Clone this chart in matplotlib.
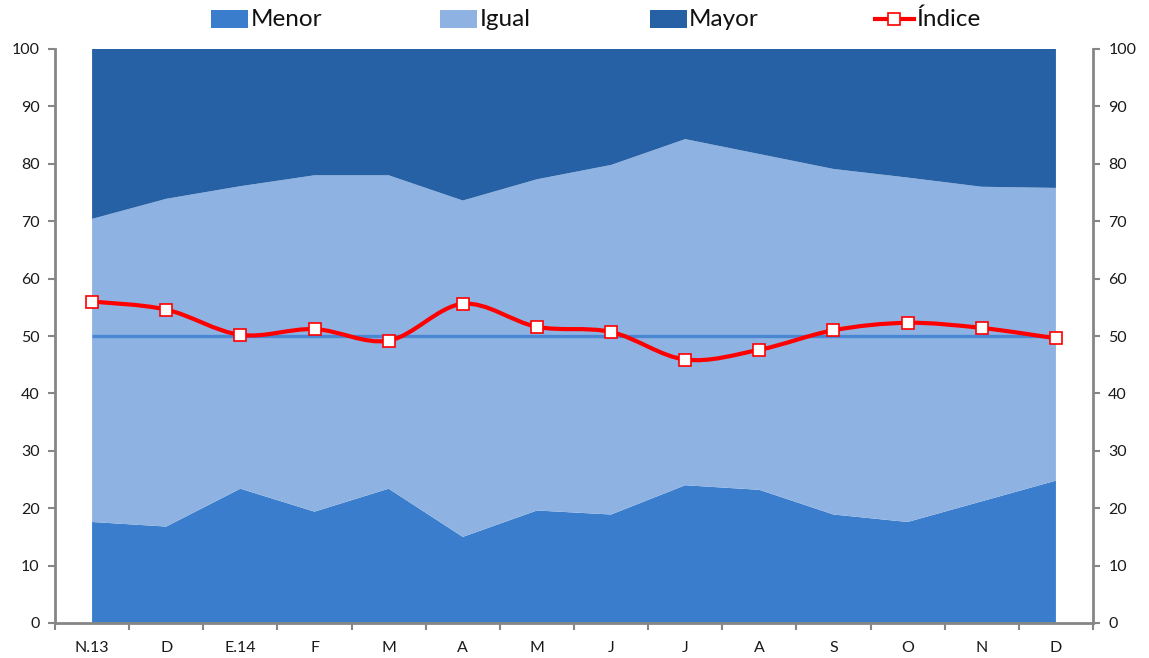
import matplotlib
matplotlib.use("Agg")
import matplotlib.pyplot as plt
from matplotlib.path import Path
from matplotlib.patches import PathPatch, Rectangle
from matplotlib.lines import Line2D
import numpy as np

categories = ["N.13", "D", "E.14", "F", "M", "A", "M", "J", "J", "A", "S", "O", "N", "D"]
menor = [17.6, 16.8, 23.4, 19.4, 23.4, 15.0, 19.6, 18.9, 24.0, 23.2, 18.9, 17.6, 21.2, 24.8]
menor_mas_igual = [70.4, 73.9, 76.1, 78.0, 78.0, 73.6, 77.3, 79.8, 84.3, 81.7, 79.1, 77.6, 76.0, 75.8]
igual = [round(t - m, 1) for t, m in zip(menor_mas_igual, menor)]
mayor = [round(100 - t, 1) for t in menor_mas_igual]
indice = [56.0, 54.6, 50.2, 51.2, 49.2, 55.6, 51.6, 50.7, 45.9, 47.6, 51.0, 52.3, 51.4, 49.6]
referencia = [50] * len(categories)
y_ticks = list(range(0, 101, 10))

c_menor = "#3b7dcd"
c_igual = "#8eb3e2"
c_mayor = "#2761a5"
c_ref = "#4a86d2"
c_idx = "#ff0000"
spine_c = "#868686"
font = ["Lato", "DejaVu Sans"]
plt.rcParams["font.family"] = font

W, H = 1149, 658
fig = plt.figure(figsize=(W / 100, H / 100), dpi=100)
ax = fig.add_axes([55 / W, 35 / H, (1093 - 55) / W, (623 - 49) / H])

x = np.arange(len(categories))
ax.stackplot(x, menor, igual, mayor, colors=[c_menor, c_igual, c_mayor], linewidth=0)
ax.plot(x, referencia, color=c_ref, lw=2.4, zorder=3, solid_capstyle="butt")

# smoothed index line (Catmull-Rom via cubic Bezier)
pts = np.column_stack([x, indice]).astype(float)
n = len(pts)
verts = [tuple(pts[0])]
codes = [Path.MOVETO]
for i in range(n - 1):
    p0 = pts[i - 1] if i > 0 else pts[i]
    p1 = pts[i]
    p2 = pts[i + 1]
    p3 = pts[i + 2] if i + 2 < n else pts[i + 1]
    c1 = p1 + (p2 - p0) / 6.0
    c2 = p2 - (p3 - p1) / 6.0
    verts += [tuple(c1), tuple(c2), tuple(p2)]
    codes += [Path.CURVE4] * 3
ax.add_patch(PathPatch(Path(verts, codes), facecolor="none", edgecolor=c_idx, lw=3.0, zorder=4))
ax.plot(x, indice, ls="none", marker="s", ms=9, mfc="white", mec=c_idx, mew=1.2, zorder=5)

ax.set_xlim(-0.5, len(categories) - 0.5)
ax.set_ylim(0, 100)
ax.set_yticks(y_ticks)
ax.set_xticks(x)
ax.set_xticklabels(categories)
ax.set_xticks(np.arange(-0.5, len(categories)), minor=True)
ax.tick_params(axis="x", which="major", length=0, labelsize=11.5, pad=13, colors="#1a1a1a")
ax.tick_params(axis="x", which="minor", length=5, width=1.5, color=spine_c)
ax.tick_params(axis="y", length=5, width=1.5, color=spine_c, labelsize=11.5, labelcolor="#1a1a1a", pad=6)
for s in ["top", "right"]:
    ax.spines[s].set_visible(False)
for s in ["left", "bottom"]:
    ax.spines[s].set_color(spine_c)
    ax.spines[s].set_linewidth(2)

ax2 = ax.twinx()
ax2.set_ylim(0, 100)
ax2.set_yticks(y_ticks)
ax2.tick_params(axis="y", length=5, width=1.5, color=spine_c, labelsize=11.5, labelcolor="#1a1a1a", pad=6)
for s in ["top", "left", "bottom"]:
    ax2.spines[s].set_visible(False)
ax2.spines["right"].set_color(spine_c)
ax2.spines["right"].set_linewidth(2)

# legend (manual, Excel style)
ly = 1 - 19 / H
lh = 17 / H
entries = [(211, 251, c_menor, "Menor"), (440, 480, c_igual, "Igual"), (650, 689, c_mayor, "Mayor")]
for px, tx, col, lab in entries:
    fig.patches.append(Rectangle((px / W, ly - lh / 2), 37 / W, lh, transform=fig.transFigure,
                                 facecolor=col, edgecolor="none"))
    fig.text(tx / W, ly, lab, fontsize=17.5, va="center", ha="left", color="#111111")
fig.lines.append(Line2D([875 / W, 914 / W], [ly, ly], transform=fig.transFigure, color=c_idx, lw=3))
fig.lines.append(Line2D([894 / W], [ly], transform=fig.transFigure, marker="s", ms=9, mfc="white",
                        mec=c_idx, mew=1.2, ls="none"))
fig.text(916 / W, ly, "Índice", fontsize=17.5, va="center", ha="left", color="#111111")

fig.savefig("out.png", dpi=100)
